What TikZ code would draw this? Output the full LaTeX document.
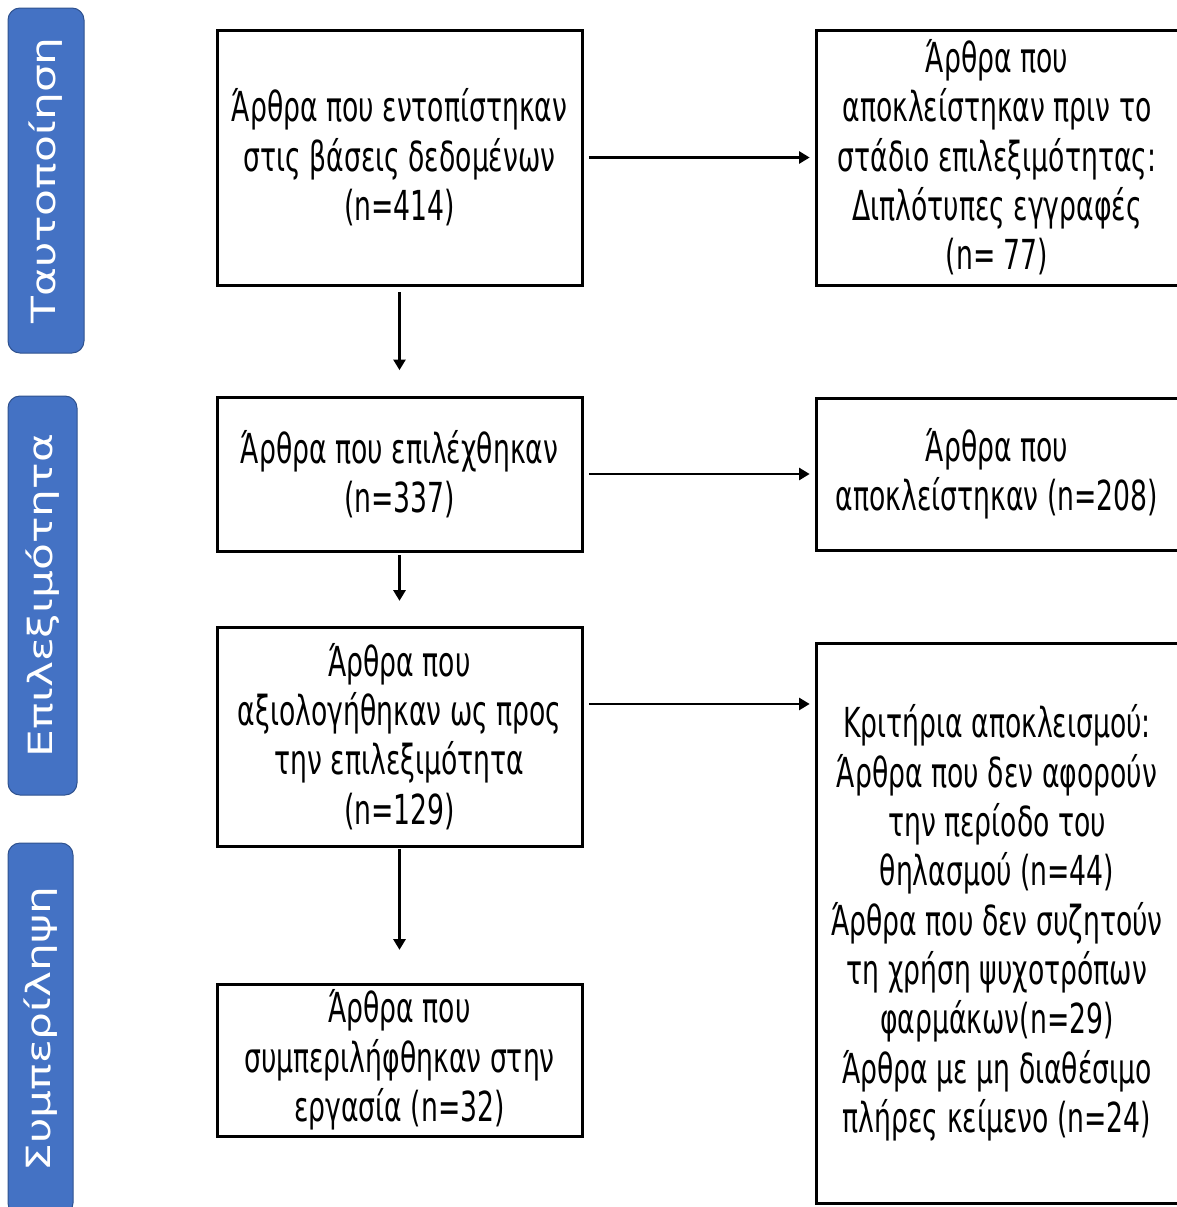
\documentclass[tikz,border=0pt]{standalone}
\usepackage{fontspec}
\setmainfont{DejaVu Sans}[FakeStretch=0.645]
\newfontfamily\sidefont{DejaVu Sans}[FakeStretch=1.32]
\usetikzlibrary{arrows.meta}
\definecolor{sideblue}{HTML}{4472C4}
\definecolor{sideedge}{HTML}{2F528F}
\begin{document}
\begin{tikzpicture}[x=0.75pt,y=-0.75pt,
  box/.style={draw=black,line width=2.25pt,fill=white,align=center,inner sep=0pt,
    font=\fontsize{31}{37}\selectfont,text=black},
  side/.style={draw=sideedge,line width=0.75pt,fill=sideblue,rounded corners=9pt,rotate=90,
    text=white,font=\sidefont\fontsize{25}{30}\selectfont,inner sep=0pt},
  arr/.style={line width=2.2pt,-{Triangle[length=8pt,width=9pt]}}]
\useasboundingbox (0,0) rectangle (1177,1207);
\clip (0,0) rectangle (1177,1207);
% side labels
\node[side,minimum width=258.75pt,minimum height=57pt] (s1) at (46,180.5) {Ταυτοποίηση};
\node[side,minimum width=299.25pt,minimum height=51.75pt] (s2) at (42.5,595.5) {Επιλεξιμότητα};
\node[side,minimum width=279pt,minimum height=48.75pt] (s3) at (40.5,1029) {Συμπερίληψη};
% left boxes
\node[box,minimum width=273.75pt,minimum height=191.25pt] (b1) at (399.5,157.5)
  {Άρθρα που εντοπίστηκαν\\στις βάσεις δεδομένων\\(n=414)};
\node[box,minimum width=273.75pt,minimum height=115.5pt] (b2) at (399.5,474)
  {Άρθρα που επιλέχθηκαν\\(n=337)};
\node[box,minimum width=273.75pt,minimum height=164.25pt] (b3) at (399.5,736.5)
  {Άρθρα που\\αξιολογήθηκαν ως προς\\την επιλεξιμότητα\\(n=129)};
\node[box,minimum width=273.75pt,minimum height=114pt] (b4) at (399.5,1060)
  {Άρθρα που\\συμπεριλήφθηκαν στην\\εργασία (n=32)};
% right boxes
\node[box,minimum width=271.5pt,minimum height=191.25pt] (r1) at (997,157.5)
  {Άρθρα που\\αποκλείστηκαν πριν το\\στάδιο επιλεξιμότητας:\\ Διπλότυπες εγγραφές\\(n= 77)};
\node[box,minimum width=271.5pt,minimum height=114pt] (r2) at (997,474)
  {Άρθρα που\\αποκλείστηκαν (n=208)};
\node[box,minimum width=271.5pt,minimum height=420pt] (r3) at (997,923)
  {Κριτήρια αποκλεισμού:\\Άρθρα που δεν αφορούν\\την περίοδο του\\θηλασμού (n=44)\\Άρθρα που δεν συζητούν\\τη χρήση ψυχοτρόπων\\φαρμάκων(n=29)\\Άρθρα με μη διαθέσιμο\\πλήρες κείμενο (n=24)};
% horizontal arrows
\draw[arr,shorten <=4pt,shorten >=3.6pt] (b1) -- (r1);
\draw[arr,shorten <=4pt,shorten >=3.6pt] (b2) -- (r2);
\draw[arr,shorten <=4pt,shorten >=3.6pt] ([yshift=24.4pt]b3.east) -- ([yshift=24.4pt]b3.east -| r3.west);
% vertical arrows
\draw[arr,shorten <=4.2pt,shorten >=19pt] (b1.south) -- (b2.north);
\draw[arr,shorten <=2.2pt,shorten >=18.5pt] (b2.south) -- (b3.north);
\draw[arr,shorten <=1pt,shorten >=24.5pt] (b3.south) -- (b4.north);
\end{tikzpicture}
\end{document}
